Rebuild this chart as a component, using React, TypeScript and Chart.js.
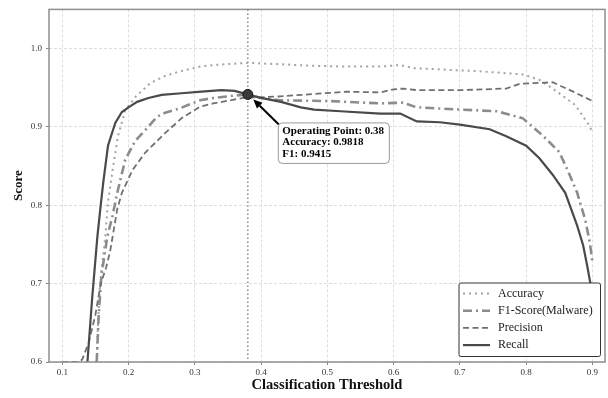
import React, { useEffect, useRef } from 'react';
import { Chart, registerables } from 'chart.js';

Chart.register(...registerables);

const xTicks = [0.1, 0.2, 0.3, 0.4, 0.5, 0.6, 0.7, 0.8, 0.9];
const yTicks = [0.6, 0.7, 0.8, 0.9, 1.0];

const accuracyT = [0.152, 0.154, 0.157, 0.165, 0.169, 0.176, 0.184, 0.195, 0.21, 0.233, 0.255, 0.278, 0.308, 0.328, 0.38, 0.429, 0.479, 0.53, 0.58, 0.61, 0.63, 0.68, 0.73, 0.795, 0.82, 0.84, 0.874, 0.896, 0.9];
const accuracyV = [0.6, 0.65, 0.7, 0.76, 0.804, 0.845, 0.888, 0.921, 0.938, 0.956, 0.965, 0.971, 0.977, 0.979, 0.9818, 0.98, 0.978, 0.977, 0.977, 0.979, 0.975, 0.973, 0.971, 0.967, 0.96, 0.949, 0.928, 0.901, 0.892];

const f1T = [0.152, 0.155, 0.159, 0.168, 0.176, 0.183, 0.195, 0.21, 0.221, 0.243, 0.255, 0.278, 0.308, 0.328, 0.36, 0.38, 0.4, 0.429, 0.504, 0.58, 0.614, 0.635, 0.705, 0.756, 0.795, 0.825, 0.85, 0.862, 0.877, 0.889, 0.896, 0.9];
const f1V = [0.6, 0.66, 0.71, 0.76, 0.787, 0.816, 0.858, 0.882, 0.892, 0.913, 0.918, 0.924, 0.934, 0.937, 0.94, 0.9415, 0.937, 0.934, 0.933, 0.93, 0.931, 0.925, 0.922, 0.92, 0.911, 0.889, 0.868, 0.846, 0.816, 0.782, 0.753, 0.728];

const precisionT = [0.1, 0.125, 0.13, 0.14, 0.15, 0.158, 0.166, 0.172, 0.178, 0.183, 0.19, 0.206, 0.225, 0.255, 0.28, 0.308, 0.328, 0.373, 0.429, 0.479, 0.53, 0.58, 0.6, 0.614, 0.635, 0.705, 0.77, 0.79, 0.84, 0.871, 0.9];
const precisionV = [0.6, 0.6, 0.603, 0.625, 0.66, 0.7, 0.72, 0.74, 0.77, 0.795, 0.816, 0.845, 0.867, 0.892, 0.911, 0.926, 0.93, 0.937, 0.939, 0.942, 0.945, 0.944, 0.948, 0.949, 0.947, 0.947, 0.949, 0.955, 0.957, 0.945, 0.933];

const recallT = [0.138, 0.145, 0.153, 0.158, 0.162, 0.169, 0.18, 0.19, 0.2, 0.213, 0.23, 0.25, 0.28, 0.31, 0.34, 0.36, 0.38, 0.4, 0.43, 0.46, 0.48, 0.52, 0.58, 0.61, 0.635, 0.67, 0.7, 0.745, 0.77, 0.8, 0.82, 0.84, 0.859, 0.877, 0.886, 0.893, 0.897, 0.9];
const recallV = [0.6, 0.68, 0.76, 0.8, 0.83, 0.876, 0.905, 0.919, 0.925, 0.932, 0.937, 0.941, 0.943, 0.945, 0.947, 0.946, 0.9415, 0.937, 0.932, 0.925, 0.922, 0.92, 0.917, 0.917, 0.907, 0.906, 0.903, 0.897, 0.888, 0.876, 0.86, 0.839, 0.816, 0.774, 0.749, 0.719, 0.7, 0.68];

const opThreshold = 0.38;
const opAccuracy = 0.9818;
const opF1 = 0.9415;

const seriesLabels = ['Accuracy', 'F1-Score(Malware)', 'Precision', 'Recall'];
const annotationLines = [
  `Operating Point: ${opThreshold.toFixed(2)}`,
  `Accuracy: ${opAccuracy.toFixed(4)}`,
  `F1: ${opF1.toFixed(4)}`,
];

const SERIF = '"Liberation Serif", "DejaVu Serif", "Times New Roman", serif';

const styles = [
  { color: '#a3a3a3', width: 2, dash: [2, 4] },
  { color: '#8c8c8c', width: 2.6, dash: [9, 4, 2, 4] },
  { color: '#707070', width: 1.8, dash: [6, 3.5] },
  { color: '#4a4a4a', width: 2.2, dash: [] as number[] },
];

const toPts = (t: number[], v: number[]) => t.map((x, i) => ({ x, y: v[i] }));

const overlayPlugin = {
  id: 'overlay',
  beforeDatasetsDraw(chart: any) {
    const { ctx, chartArea: a, scales } = chart;
    const px = scales.x.getPixelForValue(opThreshold);
    ctx.save();
    ctx.strokeStyle = '#8a8a8a';
    ctx.lineWidth = 1.5;
    ctx.setLineDash([1.5, 2.5]);
    ctx.beginPath();
    ctx.moveTo(px, a.top);
    ctx.lineTo(px, a.bottom);
    ctx.stroke();
    ctx.restore();
  },
  afterDatasetsDraw(chart: any) {
    const { ctx, scales } = chart;
    const mx = scales.x.getPixelForValue(opThreshold);
    const my = scales.y.getPixelForValue(opF1);
    ctx.save();
    ctx.beginPath();
    ctx.arc(mx, my, 5, 0, Math.PI * 2);
    ctx.fillStyle = '#3a3a3a';
    ctx.fill();
    ctx.lineWidth = 1;
    ctx.strokeStyle = '#111';
    ctx.stroke();
    const tx = mx + 31, ty = my + 30;
    const hx = mx + 5.5, hy = my + 5;
    const ang = Math.atan2(hy - ty, hx - tx);
    const hl = 9, hw = 4;
    const bx = hx - hl * Math.cos(ang), by = hy - hl * Math.sin(ang);
    ctx.strokeStyle = '#000';
    ctx.lineWidth = 2;
    ctx.beginPath();
    ctx.moveTo(tx, ty);
    ctx.lineTo(bx, by);
    ctx.stroke();
    ctx.beginPath();
    ctx.moveTo(hx, hy);
    ctx.lineTo(bx + hw * Math.sin(ang), by - hw * Math.cos(ang));
    ctx.lineTo(bx - hw * Math.sin(ang), by + hw * Math.cos(ang));
    ctx.closePath();
    ctx.fillStyle = '#000';
    ctx.fill();
    const bxl = mx + 30.5, byt = my + 28.5, bw = 111, bh = 40.5;
    ctx.beginPath();
    ctx.roundRect(bxl, byt, bw, bh, 4);
    ctx.fillStyle = 'rgba(255,255,255,0.92)';
    ctx.fill();
    ctx.strokeStyle = '#9a9a9a';
    ctx.lineWidth = 1;
    ctx.stroke();
    ctx.fillStyle = '#000';
    ctx.font = `bold 11px ${SERIF}`;
    ctx.textBaseline = 'middle';
    ctx.textAlign = 'left';
    annotationLines.forEach((line, i) => {
      ctx.fillText(line, bxl + 4, byt + 8 + i * 11.5);
    });
    ctx.restore();
  },
  afterDraw(chart: any) {
    const { ctx, chartArea: a } = chart;
    ctx.save();
    ctx.strokeStyle = '#8f8f8f';
    ctx.lineWidth = 1.5;
    ctx.setLineDash([]);
    ctx.strokeRect(a.left, a.top, a.right - a.left, a.bottom - a.top);
    const lw = 141.5, lh = 73.5;
    const lx = a.right - 4.5 - lw, ly = a.bottom - 5.5 - lh;
    ctx.beginPath();
    ctx.roundRect(lx, ly, lw, lh, 2);
    ctx.fillStyle = '#ffffff';
    ctx.fill();
    ctx.strokeStyle = '#333';
    ctx.lineWidth = 1;
    ctx.stroke();
    ctx.font = `12px ${SERIF}`;
    ctx.textBaseline = 'middle';
    ctx.textAlign = 'left';
    seriesLabels.forEach((lab, i) => {
      const s = styles[i];
      const yy = ly + 10.5 + i * 17.2;
      ctx.beginPath();
      ctx.strokeStyle = s.color;
      ctx.lineWidth = s.width;
      ctx.setLineDash(s.dash);
      ctx.moveTo(lx + 4, yy);
      ctx.lineTo(lx + 31, yy);
      ctx.stroke();
      ctx.setLineDash([]);
      ctx.fillStyle = '#222';
      ctx.fillText(lab, lx + 39, yy);
    });
    ctx.restore();
  },
};

export default function App() {
  const ref = useRef<HTMLCanvasElement | null>(null);
  useEffect(() => {
    document.body.style.margin = '0';
    if (!ref.current) return;
    const series = [
      { t: recallT, v: recallV, s: styles[3], label: seriesLabels[3] },
      { t: precisionT, v: precisionV, s: styles[2], label: seriesLabels[2] },
      { t: f1T, v: f1V, s: styles[1], label: seriesLabels[1] },
      { t: accuracyT, v: accuracyV, s: styles[0], label: seriesLabels[0] },
    ];
    const chart = new Chart(ref.current, {
      type: 'scatter',
      data: {
        datasets: series.map((d) => ({
          label: d.label,
          data: toPts(d.t, d.v),
          showLine: true,
          borderColor: d.s.color,
          backgroundColor: d.s.color,
          borderWidth: d.s.width,
          borderDash: d.s.dash,
          pointRadius: 0,
          tension: 0,
        })),
      },
      options: {
        responsive: false,
        animation: false,
        events: [],
        layout: { padding: { top: 6, right: 3, left: 0, bottom: 0 } },
        plugins: { legend: { display: false }, tooltip: { enabled: false } },
        scales: {
          x: {
            type: 'linear',
            min: 0.08,
            max: 0.919,
            afterBuildTicks: (s: any) => {
              s.ticks = xTicks.map((v) => ({ value: v }));
            },
            afterFit: (s: any) => {
              s.height = 36;
            },
            ticks: {
              font: { family: SERIF, size: 9 },
              color: '#333',
              padding: 2,
              maxRotation: 0,
              autoSkip: false,
              callback: (v: any) => Number(v).toFixed(1),
            },
            grid: { color: '#d4d4d4', lineWidth: 0.8, tickLength: 3, tickColor: '#666', tickWidth: 0.8 },
            border: { display: false, dash: [3, 2] },
            title: {
              display: true,
              text: 'Classification Threshold',
              color: '#111',
              font: { family: SERIF, size: 14.5, weight: 'bold' },
              padding: { top: 0, bottom: 4 },
            },
          },
          y: {
            type: 'linear',
            min: 0.6,
            max: 1.05,
            afterBuildTicks: (s: any) => {
              s.ticks = yTicks.map((v) => ({ value: v }));
            },
            afterFit: (s: any) => {
              s.width = 49;
            },
            ticks: {
              font: { family: SERIF, size: 9 },
              color: '#333',
              padding: 4,
              callback: (v: any) => Number(v).toFixed(1),
            },
            grid: { color: '#d4d4d4', lineWidth: 0.8, tickLength: 3, tickColor: '#666', tickWidth: 0.8 },
            border: { display: false, dash: [3, 2] },
            title: {
              display: true,
              text: 'Score',
              color: '#111',
              font: { family: SERIF, size: 13, weight: 'bold' },
              padding: { top: 11, bottom: 0 },
            },
          },
        },
      },
      plugins: [overlayPlugin],
    } as any);
    return () => chart.destroy();
  }, []);
  return <canvas ref={ref} width={608} height={398} style={{ display: 'block' }} />;
}
